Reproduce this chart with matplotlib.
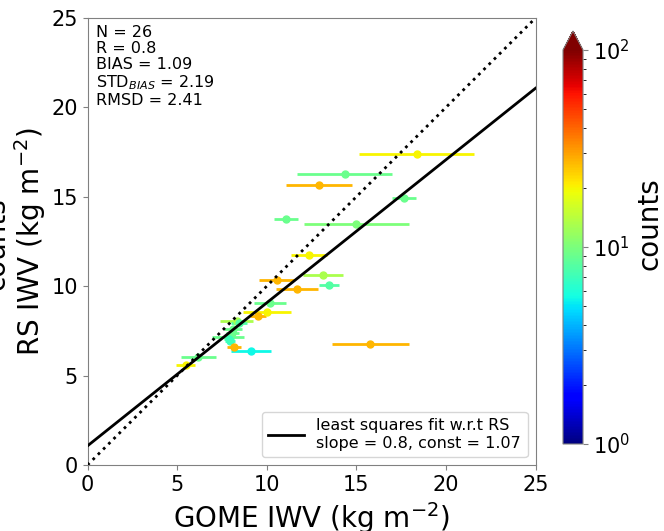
import numpy as np
import matplotlib
matplotlib.use('Agg')
import matplotlib.pyplot as plt
from matplotlib.colors import LogNorm

# GOME vs RS IWV, one point per collocation, colour = counts
gome = [18.36, 14.36, 12.93, 17.67, 11.07, 15.01, 12.37, 13.15, 10.55, 13.47,
        11.70, 10.18, 10.03, 9.53, 8.32, 8.45, 8.09, 7.85, 7.89, 7.95,
        8.17, 9.10, 6.18, 5.49, 15.79, 8.10]
rs = [17.39, 16.27, 15.66, 14.92, 13.78, 13.46, 11.74, 10.64, 10.35, 10.05,
      9.86, 9.04, 8.57, 8.33, 8.05, 7.93, 7.40, 7.18, 7.03, 6.95,
      6.62, 6.39, 6.02, 5.57, 6.77, 7.60]
gome_err = [3.2, 2.65, 1.84, 0.67, 0.66, 2.94, 1.0, 1.1, 0.97, 0.55,
            1.17, 0.88, 1.35, 0.45, 0.9, 0.47, 0.36, 0.9, 0.3, 0.3,
            0.4, 1.12, 0.98, 0.53, 2.16, 0.5]
counts = [20, 9, 27, 9, 9, 10, 20, 13, 27, 8,
          27, 9, 20, 27, 13, 8, 9, 9, 7, 7,
          27, 5.5, 9, 20, 27, 9]

slope = 0.8
const = 1.07
stats = 'N = 26\nR = 0.8\nBIAS = 1.09\nSTD$_{BIAS}$ = 2.19\nRMSD = 2.41'

cmap = plt.get_cmap('jet')
norm = LogNorm(vmin=1, vmax=100)

fig = plt.figure(figsize=(6.64, 5.31), dpi=100)
ax = fig.add_axes([87.5/664, 1-465/531, 448/664, 447/531])

for i in range(len(gome)):
    c = cmap(norm(counts[i]))
    ax.errorbar(gome[i], rs[i], xerr=gome_err[i], fmt='o', color=c, ms=5,
                elinewidth=2, capsize=0, zorder=2)

xx = np.array([0, 25])
ax.plot(xx, xx, ':', color='black', lw=2, zorder=3)
ax.plot(xx, slope*xx + const, '-', color='black', lw=2, zorder=3,
        label=f'least squares fit w.r.t RS\nslope = {slope}, const = {const}')

ax.set_xlim(0, 25)
ax.set_ylim(0, 25)
ax.set_xticks(np.arange(0, 26, 5))
ax.set_yticks(np.arange(0, 26, 5))
ax.tick_params(labelsize=15, color='gray')
for s in ax.spines.values():
    s.set_color('gray')
ax.set_xlabel('GOME IWV (kg m$^{-2}$)', fontsize=20, labelpad=4)
ax.set_ylabel('RS IWV (kg m$^{-2}$)', fontsize=20, labelpad=2)
ax.text(0.02, 0.985, stats, transform=ax.transAxes, fontsize=11.5,
        va='top', ha='left', linespacing=1.1)
ax.legend(loc='lower right', fontsize=11.5, handlelength=2.2)

fig.text(11/664, 1-244/531, 'counts', rotation=90, ha='right', va='center',
         fontsize=20)

cax = fig.add_axes([563/664, 1-444/531, 20/664, 413/531])
sm = plt.cm.ScalarMappable(norm=norm, cmap=cmap)
cb = fig.colorbar(sm, cax=cax, extend='max', extendfrac=0.048)
cb.set_label('counts', fontsize=20, y=0.56)
cb.ax.tick_params(labelsize=15, color='gray')
cb.outline.set_edgecolor('gray')

fig.savefig('out.png', dpi=100)
